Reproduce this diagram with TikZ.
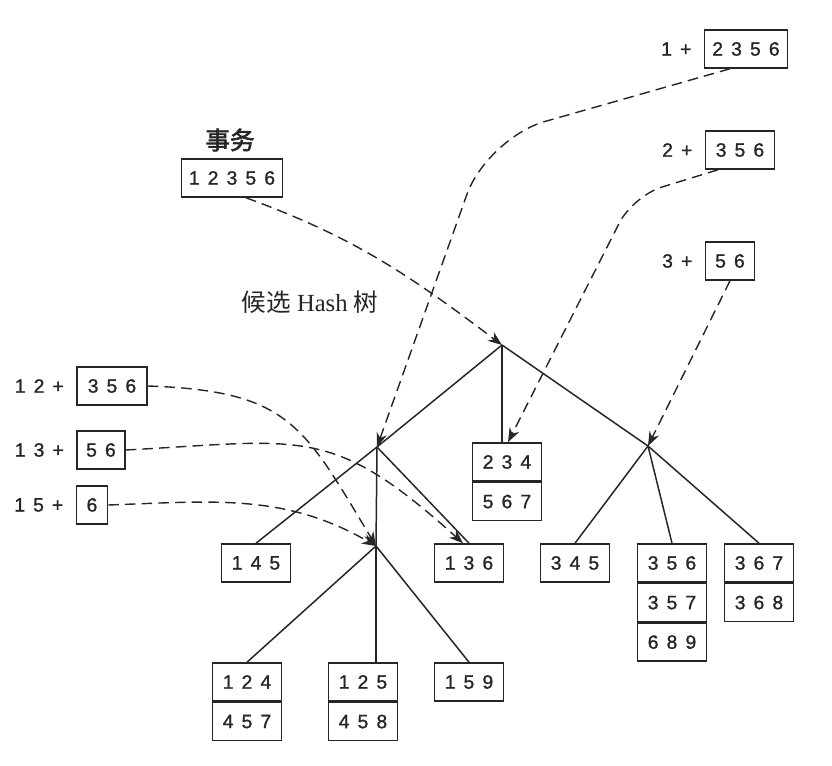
\documentclass[tikz,border=0pt]{standalone}
\usepackage{fontspec}
\setmainfont{Liberation Serif}
\newfontfamily\cjkfont[AutoFakeBold=2.5]{Noto Sans CJK SC}
\newfontfamily\digitfont[LetterSpace=42, FakeBold=1.2]{Liberation Sans}
\usetikzlibrary{arrows.meta, positioning, calc}

\tikzset{
  cell/.style = {draw, line width = 0.9pt, inner sep = 0pt, minimum width = 1.38cm, minimum height = 0.76cm, font = \digitfont\fontsize{11pt}{13pt}\selectfont},
  box/.style = {cell, minimum width = #1},
  tag/.style = {inner sep = 0pt, font = \digitfont\fontsize{11pt}{13pt}\selectfont},
  title/.style = {inner sep = 0pt, font = \fontsize{14pt}{16pt}\selectfont},
  branch/.style = {line width = 0.85pt},
  probe/.style = {->, line width = 0.8pt, dash pattern = on 6pt off 3.5pt},
}

\begin{document}
\begin{tikzpicture}[x = 0.02cm, y = -0.02cm, color = black!85, >={Stealth[length = 8pt, width = 6pt, inset = 2.5pt]}]
\useasboundingbox (0,0) rectangle (832,766);

% inner points of the tree
\node[coordinate] at (502,345) (root) {};
\node[coordinate] at (377,447) (l) {};
\node[coordinate] at (648,446) (r) {};
\node[coordinate] at (376,546) (ll) {};

% leaves
\node[cell] at (507,462) (b234) {234};
\node[cell, below = 0pt of b234] (b567) {567};
\node[cell] at (256,563) (b145) {145};
\node[cell] at (469,563) (b136) {136};
\node[cell] at (247,682) (b124) {124};
\node[cell, below = 0pt of b124] (b457) {457};
\node[cell] at (363,682) (b125) {125};
\node[cell, below = 0pt of b125] (b458) {458};
\node[cell] at (469,682) (b159) {159};
\node[cell] at (575,563) (b345) {345};
\node[cell] at (672,563) (b356) {356};
\node[cell, below = 0pt of b356] (b357) {357};
\node[cell, below = 0pt of b357] (b689) {689};
\node[cell] at (759,563) (b367) {367};
\node[cell, below = 0pt of b367] (b368) {368};

\draw[branch] (root) -- (l);
\draw[branch] (root) -- (root |- b234.north);
\draw[branch] (root) -- (r);
\draw[branch] (l) -- (b145.north);
\draw[branch] (l) -- (ll);
\draw[branch] (l) -- (b136.north);
\draw[branch] (ll) -- (b124.north);
\draw[branch] (ll) -- (ll |- b125.north);
\draw[branch] (ll) -- (b159.north);
\draw[branch] (r) -- (b345.north);
\draw[branch] (r) -- (b356.north);
\draw[branch] (r) -- (b367.north);

% transaction and its pieces
\node[title] at (230,140) (txname) {{\cjkfont\bfseries 事务}};
\node[box = 2.02cm] at (232,178) (tx) {12356};
\node[title] at (310,302) (treename) {{\cjkfont 候选} Hash {\cjkfont 树}};
\node[box = 1.66cm] at (746,49) (q1) {2356};
\node[box = 1.38cm] at (740,150) (q2) {356};
\node[box = 0.98cm] at (730,261) (q3) {56};
\node[box = 1.4cm] at (112,386) (p12) {356};
\node[box = 0.96cm] at (101,450) (p13) {56};
\node[box = 0.62cm] at (92,505) (p15) {6};
\node[tag, left = 0.24cm of q1] (t1) {1+};
\node[tag, left = 0.24cm of q2] (t2) {2+};
\node[tag, left = 0.24cm of q3] (t3) {3+};
\node[tag, left = 0.24cm of p12] (t12) {12+};
\node[tag, left = 0.24cm of p13] (t13) {13+};
\node[tag, left = 0.24cm of p15] (t15) {15+};

\coordinate (bend1) at (487,138);
\coordinate (bend2) at (633,196);
\draw[probe] ($(tx.south)+(14,0)$) to[out = -20, in = 143] (root);
\draw[probe, rounded corners = 1.2cm] ($(q1.south)+(-16,0)$) -- (bend1) -- (l);
\draw[probe, rounded corners = 0.6cm] ($(q2.south)+(-22,0)$) -- (bend2) -- ($(b234.north)+(1,0)$);
\draw[probe] (q3.south) -- (r);
\draw[probe] (p12.east) to[out = -2, in = 121, looseness = 1.3] (ll);
\draw[probe] (p13.east) to[out = 3, in = 138, looseness = 1.3] ($(b136.north)+(-6,0)$);
\draw[probe] (p15.east) to[out = 2, in = 150] (ll);
\end{tikzpicture}
\end{document}
